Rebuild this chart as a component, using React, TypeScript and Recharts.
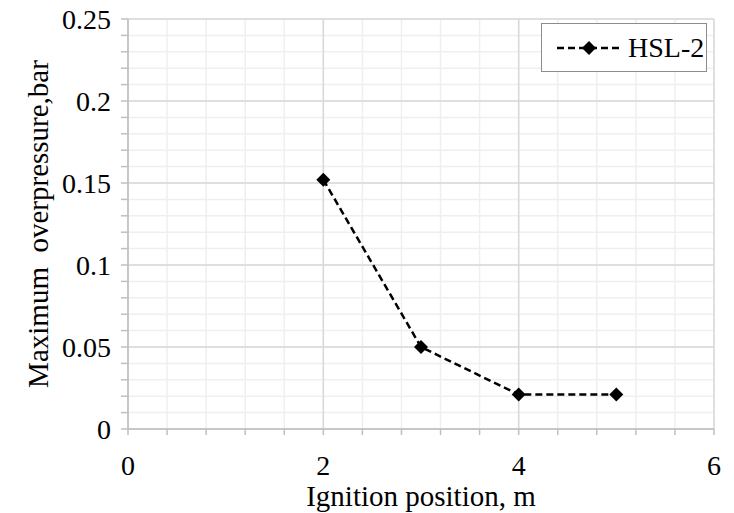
import {
  CartesianGrid,
  Legend,
  Line,
  LineChart,
  ReferenceLine,
  XAxis,
  YAxis,
} from "recharts";

const FONT = '"Liberation Serif", "Times New Roman", serif';

// ignition position (m) vs max overpressure (bar), series HSL-2
const positions = [2, 3, 4, 5];
const hsl2 = [0.152, 0.05, 0.021, 0.021];

// every minor tick gets a grid line; only the majors get a label
const xTicks = [0, 0.4, 0.8, 1.2, 1.6, 2, 2.4, 2.8, 3.2, 3.6, 4, 4.4, 4.8, 5.2, 5.6, 6];
const xLabels = [0, 2, 4, 6];
const yTicks = [
  0, 0.01, 0.02, 0.03, 0.04, 0.05, 0.06, 0.07, 0.08, 0.09, 0.1, 0.11, 0.12, 0.13,
  0.14, 0.15, 0.16, 0.17, 0.18, 0.19, 0.2, 0.21, 0.22, 0.23, 0.24, 0.25,
];
const yLabels = [0, 0.05, 0.1, 0.15, 0.2, 0.25];

const data = positions.map((x, i) => ({ x, hsl2: hsl2[i] }));

const isMajor = (list: number[], v: number) => list.some((m) => Math.abs(m - v) < 1e-9);

const TICK = { fill: "#000", fontSize: 28, fontFamily: FONT } as const;
const AXIS_LINE = { stroke: "#bfbfbf", strokeWidth: 1.5 };

function Diamond({ cx, cy, r = 7 }: { cx?: number; cy?: number; r?: number }) {
  if (cx == null || cy == null) return null;
  return (
    <polygon
      points={`${cx},${cy - r} ${cx + r},${cy} ${cx},${cy + r} ${cx - r},${cy}`}
      fill="#000"
    />
  );
}

function LegendBox() {
  return (
    <div
      style={{
        boxSizing: "border-box",
        width: 166,
        height: 49,
        border: "1.5px solid #8c8c8c",
        background: "#fff",
        display: "flex",
        alignItems: "center",
        fontFamily: FONT,
        fontSize: 28,
        color: "#000",
        whiteSpace: "nowrap",
      }}
    >
      <svg width={68} height={20} style={{ marginLeft: 12, flexShrink: 0 }}>
        <line x1={3} y1={10} x2={66} y2={10} stroke="#000" strokeWidth={2.5} strokeDasharray="7 4" />
        <Diamond cx={35} cy={10} />
      </svg>
      <span style={{ marginLeft: 6 }}>HSL-2</span>
    </div>
  );
}

export default function App() {
  return (
    <div style={{ position: "absolute", left: 0, top: 0, background: "#fff" }}>
      <LineChart
        width={734}
        height={513}
        data={data}
        margin={{ top: 19, right: 20, bottom: 0, left: 0 }}
      >
        <CartesianGrid stroke="#efefef" strokeWidth={1.5} />
        {xLabels.map((v) => (
          <ReferenceLine key={`vx${v}`} x={v} stroke="#d9d9d9" strokeWidth={1.5} />
        ))}
        {yLabels.map((v) => (
          <ReferenceLine key={`hy${v}`} y={v} stroke="#d9d9d9" strokeWidth={1.5} />
        ))}
        <XAxis
          dataKey="x"
          type="number"
          domain={[0, 6]}
          ticks={xTicks}
          interval={0}
          height={84}
          tick={TICK}
          tickLine={AXIS_LINE}
          axisLine={AXIS_LINE}
          tickSize={6}
          tickMargin={20}
          tickFormatter={(v: number) => (isMajor(xLabels, v) ? String(v) : "")}
          label={{
            value: "Ignition position, m",
            position: "insideBottom",
            offset: 7,
            fill: "#000",
            fontSize: 29,
            fontFamily: FONT,
          }}
        />
        <YAxis
          type="number"
          domain={[0, 0.25]}
          ticks={yTicks}
          interval={0}
          width={128}
          tick={TICK}
          tickLine={AXIS_LINE}
          axisLine={AXIS_LINE}
          tickSize={7}
          tickMargin={10}
          tickFormatter={(v: number) => (isMajor(yLabels, v) ? String(v) : "")}
          label={{
            content: ({ viewBox }: any) => {
              const cy = viewBox.y + viewBox.height / 2;
              const cx = viewBox.x + 38;
              return (
                <text
                  x={cx}
                  y={cy}
                  transform={`rotate(-90, ${cx}, ${cy})`}
                  textAnchor="middle"
                  dominantBaseline="central"
                  fill="#000"
                  fontSize={29}
                  fontFamily={FONT}
                  style={{ whiteSpace: "pre" }}
                >
                  {"Maximum  overpressure,bar"}
                </text>
              );
            },
          }}
        />
        <Legend
          layout="horizontal"
          verticalAlign="middle"
          align="center"
          wrapperStyle={{ top: 23, left: 541, right: "auto", bottom: "auto", width: 166 }}
          content={() => <LegendBox />}
        />
        <Line
          type="linear"
          dataKey="hsl2"
          name="HSL-2"
          stroke="#000"
          strokeWidth={2.5}
          strokeDasharray="7 4"
          dot={(p: any) => <Diamond key={`d${p.index}`} cx={p.cx} cy={p.cy} />}
          activeDot={false}
          isAnimationActive={false}
        />
      </LineChart>
    </div>
  );
}
